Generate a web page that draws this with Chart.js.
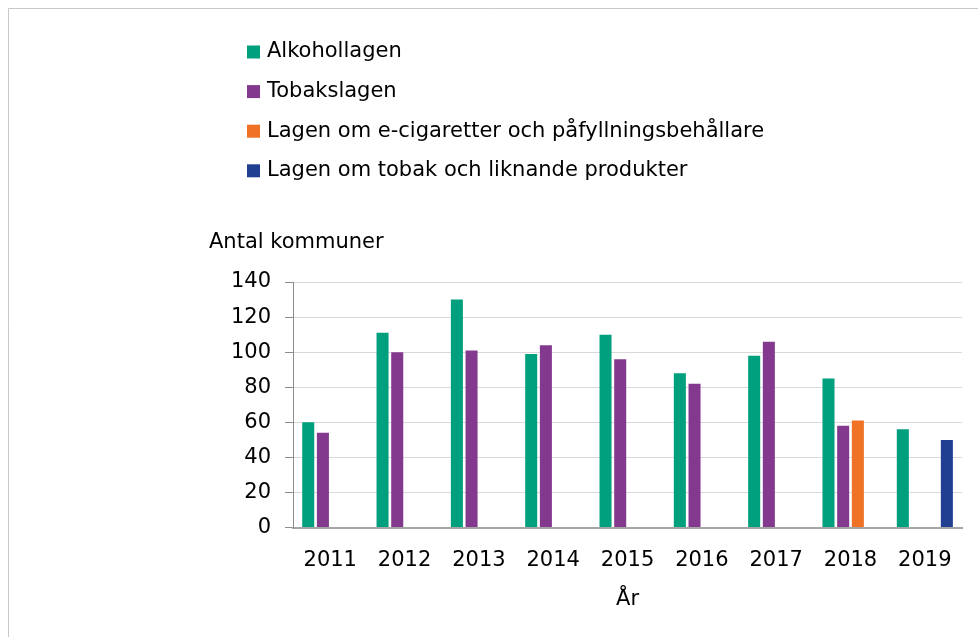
<!DOCTYPE html>
<html>
<head>
<meta charset="utf-8">
<script src="https://cdn.jsdelivr.net/npm/chart.js@4"></script>
<style>
  html, body { margin: 0; padding: 0; background: #fff; }
</style>
</head>
<body>
<canvas id="bar-chart" width="978" height="637"></canvas>
<script>
// data
var years = ["2011", "2012", "2013", "2014", "2015", "2016", "2017", "2018", "2019"];
var alkohollagen = [60, 111, 130, 99, 110, 88, 98, 85, 56];
var tobakslagen = [54, 100, 101, 104, 96, 82, 106, 58, null];
var eCigaretter = [null, null, null, null, null, null, null, 61, null];
var tobakLiknande = [null, null, null, null, null, null, null, null, 50];
var seriesNames = ["Alkohollagen", "Tobakslagen", "Lagen om e-cigaretter och påfyllningsbehållare", "Lagen om tobak och liknande produkter"];
var yTitle = "Antal kommuner";
var xTitle = "År";

var font = '"DejaVu Sans", Verdana, sans-serif';

// legend + y title drawn by hand (the legend is stacked one per row)
var extraText = {
  id: 'extraText',
  beforeDraw: function(chart) {
    var ctx = chart.ctx;
    ctx.save();
    ctx.strokeStyle = '#c8c8c8';
    ctx.lineWidth = 1;
    ctx.beginPath();
    ctx.moveTo(8.5, 640);
    ctx.lineTo(8.5, 8.5);
    ctx.lineTo(980, 8.5);
    ctx.stroke();
    ctx.restore();
  },
  afterDraw: function(chart) {
    var ctx = chart.ctx;
    ctx.save();
    ctx.font = '21px ' + font;
    ctx.textBaseline = 'middle';
    ctx.textAlign = 'left';
    chart.data.datasets.forEach(function(ds, i) {
      var y = 52 + i * 39.6;
      ctx.fillStyle = ds.backgroundColor;
      ctx.fillRect(247, y - 6.5, 13, 13);
      ctx.fillStyle = '#000';
      ctx.fillText(ds.label, 267, y);
    });
    ctx.fillStyle = '#000';
    ctx.fillText(yTitle, 209, 243);
    ctx.restore();
  }
};

new Chart(document.getElementById("bar-chart"), {
  type: 'bar',
  data: {
    labels: years,
    datasets: [{
      label: seriesNames[0],
      backgroundColor: "#00a07f",
      data: alkohollagen
    }, {
      label: seriesNames[1],
      backgroundColor: "#833a8e",
      data: tobakslagen
    }, {
      label: seriesNames[2],
      backgroundColor: "#f07226",
      data: eCigaretter
    }, {
      label: seriesNames[3],
      backgroundColor: "#213f91",
      data: tobakLiknande
    }]
  },
  options: {
    responsive: false,
    animation: false,
    categoryPercentage: 0.79,
    barPercentage: 0.82,
    layout: {
      padding: { top: 282, left: 217, right: 16, bottom: 21 }
    },
    plugins: {
      legend: { display: false },
      title: { display: false },
      tooltip: { enabled: false }
    },
    scales: {
      x: {
        grid: { display: false, drawTicks: true, tickLength: 14 },
        border: { color: '#a5a5a5', width: 2 },
        ticks: { color: '#000', font: { family: font, size: 21 }, padding: 6, maxRotation: 0 },
        title: { display: true, text: xTitle, color: '#000', font: { family: font, size: 21 }, padding: { top: 8, bottom: 4 } }
      },
      y: {
        min: 0,
        max: 140,
        ticks: { stepSize: 20, color: '#000', font: { family: font, size: 21 }, padding: 14 },
        grid: { color: '#d9d9d9', tickColor: '#8c8c8c', tickLength: 8 },
        border: { color: '#8c8c8c', width: 1 }
      }
    }
  },
  plugins: [extraText]
});
</script>
</body>
</html>
